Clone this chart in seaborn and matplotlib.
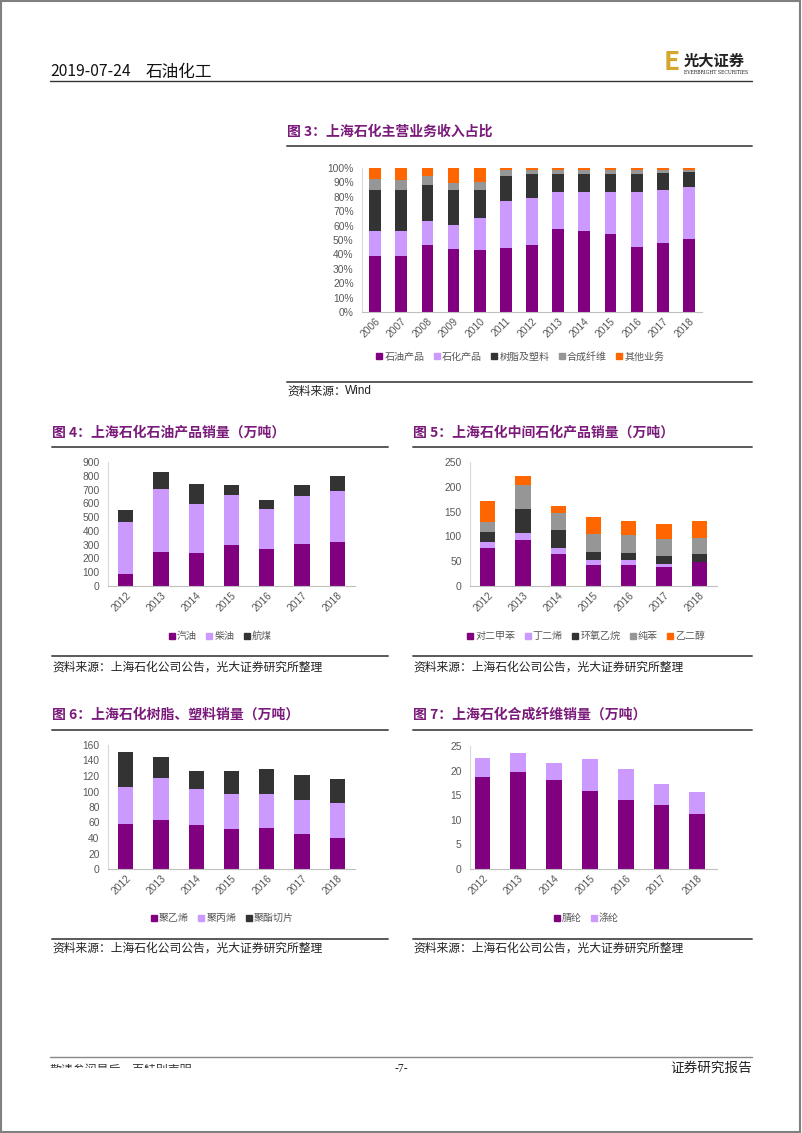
import numpy as np
import matplotlib.pyplot as plt
import seaborn as sns
from matplotlib.lines import Line2D
from matplotlib.patches import Rectangle

W, H = 802, 1133

# ---- data: revenue mix (%) ----
years_rev = [str(y) for y in range(2006, 2019)]
rev_oil = [39, 39, 46.5, 44, 43, 44.5, 46.5, 57.5, 56.5, 54, 45, 48, 50.5]
rev_chem = [17, 17, 17, 16.5, 22.5, 32.5, 33, 26, 27, 29, 38, 37, 36.5]
rev_resin = [29, 29, 25, 24, 19.5, 17.5, 16, 12.5, 12.5, 13, 13, 11.5, 10]
rev_fiber = [7.5, 7, 6, 5, 5, 4, 3, 2.8, 2.8, 2.5, 2.5, 2, 1.4]
rev_other = [7.5, 8, 5.5, 10.5, 10, 1.5, 1.5, 1.2, 1.2, 1.5, 1.5, 1.5, 1.6]
rev_labels = ["石油产品", "石化产品", "树脂及塑料", "合成纤维", "其他业务"]

# ---- data: sales volume (万吨) ----
years = [str(y) for y in range(2012, 2019)]
gasoline = [85, 248, 241, 299, 272, 307, 316]
diesel = [377, 455, 355, 365, 285, 343, 375]
jet_fuel = [88, 122, 144, 71, 66, 82, 107]

px = [75.7, 92, 65.5, 43.2, 43.2, 37.8, 49.3]
butadiene = [12.8, 15.4, 10.2, 8.8, 8.8, 7.5, 0]
eo = [19.5, 48, 37.1, 17, 15, 15.5, 16.2]
benzene = [21.7, 47.3, 33.8, 35, 35.7, 33.2, 31.1]
eg = [42.5, 18.3, 14.9, 34.5, 28.3, 30.3, 34.4]

pe = [58.5, 63.7, 56.3, 51.6, 52.5, 44.7, 39.6]
pp = [46.9, 54.1, 46.5, 45.6, 44.7, 44.3, 45.6]
pet_chip = [46, 26.2, 24.1, 29.7, 31.4, 32.7, 30.9]

acrylic = [18.8, 19.7, 18.0, 15.9, 14.0, 13.0, 11.2]
polyester = [3.8, 3.9, 3.6, 6.4, 6.3, 4.3, 4.4]

PURPLE = "#800080"
LILAC = "#CC99FF"
DARK = "#333333"
GREY = "#969696"
ORANGE = "#FF6600"
TITLE_C = "#7A1A7A"

sns.set_style("white")
plt.rcParams["font.family"] = ["Noto Sans CJK SC", "DejaVu Sans"]

fig = plt.figure(figsize=(W / 100, H / 100), dpi=100)


def fx(x):
    return x / W


def fy(y):
    return 1 - y / H


def add_axes(left, top, right, bottom):
    return fig.add_axes([fx(left), fy(bottom), fx(right) - fx(left), fy(top) - fy(bottom)])


def hline(x0, x1, y, color="#595959", lw=1.4):
    fig.add_artist(Line2D([fx(x0), fx(x1)], [fy(y), fy(y)], color=color, lw=lw))


def stacked(ax, cats, series, colors, width):
    # draw cumulative totals from the top down so each layer covers the next
    cum = np.cumsum(np.array(series, dtype=float), axis=0)
    for i in range(len(series) - 1, -1, -1):
        sns.barplot(x=cats, y=cum[i], color=colors[i], width=width,
                    saturation=1, linewidth=0, ax=ax)


def style(ax, ymax, step, fmt="{:g}", xlim=(-0.5, None)):
    ax.set_ylim(0, ymax)
    ticks = np.arange(0, ymax + step / 2, step)
    ax.set_yticks(ticks)
    ax.set_yticklabels([fmt.format(t) for t in ticks])
    n = len(ax.get_xticks())
    ax.set_xlim(xlim[0], xlim[1] if xlim[1] is not None else n - 0.5)
    for s in ["top", "right"]:
        ax.spines[s].set_visible(False)
    ax.spines["left"].set_color("#D9D9D9")
    ax.spines["bottom"].set_color("#BFBFBF")
    ax.tick_params(length=0, labelsize=7.4, colors="#595959")
    ax.tick_params(axis="y", pad=6)
    ax.tick_params(axis="x", pad=3)
    ax.set_xlabel("")
    ax.set_ylabel("")
    for lab in ax.get_xticklabels() + ax.get_yticklabels():
        lab.set_family(["Liberation Sans"])
    plt.setp(ax.get_xticklabels(), rotation=45, ha="right", rotation_mode="anchor")


def legend(labels, colors, cx, cy):
    handles = [Line2D([], [], marker="s", color=c, linestyle="", markersize=4.8) for c in colors]
    fig.legend(handles, labels, loc="center", bbox_to_anchor=(fx(cx), fy(cy)),
               ncol=len(labels), frameon=False, fontsize=7.2, handlelength=0.7,
               handletextpad=0.15, columnspacing=0.9, labelcolor="#595959",
               borderaxespad=0)


def title(x, y, s):
    fig.text(fx(x), fy(y), s, fontsize=10, fontweight="bold", color=TITLE_C, va="center")


def source(x, y, s):
    fig.text(fx(x), fy(y), s, fontsize=8.5, color="#222222", va="center")


SRC = "资料来源：上海石化公司公告，光大证券研究所整理"

# ---- header ----
fig.text(fx(50), fy(72), "2019-07-24", fontsize=11.3, va="center", color="#111111")
fig.text(fx(146), fy(72), "石油化工", fontsize=12, va="center", color="#111111")
hline(50, 752, 80.5, color="#333333", lw=1.0)
fig.text(fx(664), fy(63), "E", fontsize=19, fontweight="bold", color="#D4A72C", va="center")
fig.text(fx(684), fy(61), "光大证券", fontsize=11, fontweight="bold", color="#222222", va="center")
fig.text(fx(684), fy(73), "EVERBRIGHT SECURITIES", fontsize=3.3, color="#222222", va="center",
         family=["DejaVu Serif"])

# ---- chart 3 ----
title(287, 132, "图 3：上海石化主营业务收入占比")
hline(287, 752, 146)
ax3 = add_axes(362, 168, 702, 312)
stacked(ax3, years_rev, [rev_oil, rev_chem, rev_resin, rev_fiber, rev_other],
        [PURPLE, LILAC, DARK, GREY, ORANGE], 0.45)
style(ax3, 100, 10, fmt="{:g}%")
legend(rev_labels, [PURPLE, LILAC, DARK, GREY, ORANGE], 520, 357)
hline(287, 752, 382.5)
fig.text(fx(287), fy(391.5), "资料来源：", fontsize=8.5, color="#222222", va="center")
fig.text(fx(287 + 58), fy(391.5), "Wind", fontsize=8.5, color="#222222", va="center",
         family=["Liberation Sans"])

# ---- chart 4 ----
title(52, 433, "图 4：上海石化石油产品销量（万吨）")
hline(52, 388, 447)
ax4 = add_axes(108, 462, 355, 586)
stacked(ax4, years, [gasoline, diesel, jet_fuel], [PURPLE, LILAC, DARK], 0.43)
style(ax4, 900, 100)
legend(["汽油", "柴油", "航煤"], [PURPLE, LILAC, DARK], 220, 636)
hline(52, 388, 656)
source(52, 667, SRC)

# ---- chart 5 ----
title(413, 433, "图 5：上海石化中间石化产品销量（万吨）")
hline(413, 752, 447)
ax5 = add_axes(470, 462, 717, 586)
stacked(ax5, years, [px, butadiene, eo, benzene, eg],
        [PURPLE, LILAC, DARK, GREY, ORANGE], 0.43)
style(ax5, 250, 50)
legend(["对二甲苯", "丁二烯", "环氧乙烷", "纯苯", "乙二醇"],
       [PURPLE, LILAC, DARK, GREY, ORANGE], 586, 636)
hline(413, 752, 656)
source(413, 667, SRC)

# ---- chart 6 ----
title(52, 715, "图 6：上海石化树脂、塑料销量（万吨）")
hline(52, 388, 730)
ax6 = add_axes(108, 745, 355, 869)
stacked(ax6, years, [pe, pp, pet_chip], [PURPLE, LILAC, DARK], 0.43)
style(ax6, 160, 20)
legend(["聚乙烯", "聚丙烯", "聚酯切片"], [PURPLE, LILAC, DARK], 222, 918)
hline(52, 388, 938.5)
source(52, 948, SRC)

# ---- chart 7 ----
title(413, 715, "图 7：上海石化合成纤维销量（万吨）")
hline(413, 752, 729.5)
ax7 = add_axes(470, 746, 717, 869)
stacked(ax7, years, [acrylic, polyester], [PURPLE, LILAC], 0.44)
style(ax7, 25, 5, xlim=(-0.35, 6.55))
legend(["腈纶", "涤纶"], [PURPLE, LILAC], 586, 918)
hline(413, 752, 938.5)
source(413, 948, SRC)

# ---- footer ----
hline(50, 752, 1057, color="#888888", lw=1.0)
fig.text(fx(50), fy(1070), "敬请参阅最后一页特别声明", fontsize=8.6, color="#333333", va="center")
fig.patches.append(Rectangle((fx(45), fy(1082)), fx(170), fy(1068) - fy(1082),
                             transform=fig.transFigure, facecolor="white",
                             edgecolor="none", zorder=10))
fig.text(fx(401), fy(1069), "-7-", fontsize=8.5, color="#222222", va="center", ha="center",
         family=["Liberation Serif"])
fig.text(fx(752), fy(1068), "证券研究报告", fontsize=9.8, color="#222222", va="center", ha="right")

# page frame
fig.patches.append(Rectangle((0.001, 0.001), 0.997, 0.998, transform=fig.transFigure,
                             facecolor="none", edgecolor="#808080", lw=1.5, zorder=11))

fig.savefig("out.png", dpi=100)
